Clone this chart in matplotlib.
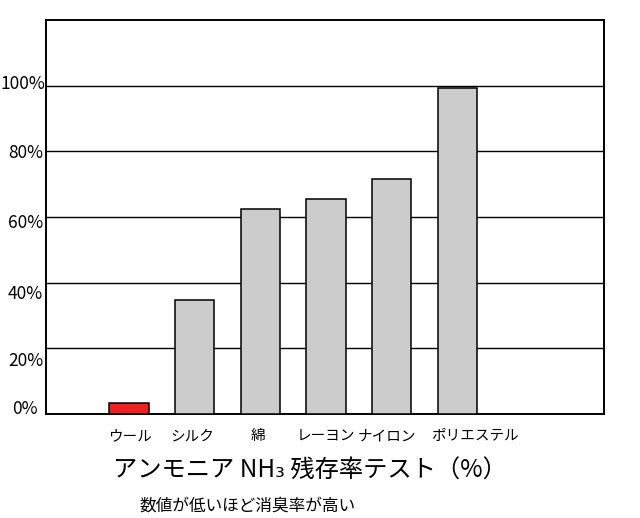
import matplotlib
matplotlib.use("Agg")
import matplotlib.pyplot as plt
import matplotlib.transforms as mtransforms

plt.rcParams['font.family'] = ['Noto Sans CJK JP', 'DejaVu Sans']

# data
fabrics = ['ウール', 'シルク', '綿', 'レーヨン', 'ナイロン', 'ポリエステル']
residual = [3.3, 34.8, 62.4, 65.5, 71.5, 99.4]
bar_colors = ['#ee2020', '#cccccc', '#cccccc', '#cccccc', '#cccccc', '#cccccc']
yticks = [0, 20, 40, 60, 80, 100]
ytick_labels = ['0%', '20%', '40%', '60%', '80%', '100%']
# small shifts of the labels seen in the original (px)
ylabel_shift = [(-6, 7), (0, -11), (0, -9), (0, -4), (0, 0), (2, 4)]
xlabel_shift = [1, -2.5, -2.5, 0, -4.5, 17.5]

fig = plt.figure(figsize=(6.4, 5.18), dpi=100)
ax = fig.add_axes([46 / 640, 1 - 414 / 518, 558 / 640, 394 / 518])

x = list(range(len(fabrics)))
ax.bar(x, residual, width=0.6, color=bar_colors, edgecolor='black',
       linewidth=1.1, zorder=3)

ax.set_xlim(-1.26, 7.23)
ax.set_ylim(0, 120)
for v in yticks[1:]:
    ax.axhline(v, color='black', linewidth=1.0, zorder=1)

ax.set_yticks(yticks)
ax.set_yticklabels(ytick_labels, fontsize=12.5)
ax.tick_params(axis='y', length=0, pad=2)
for lab, (dx, dy) in zip(ax.get_yticklabels(), ylabel_shift):
    lab.set_transform(lab.get_transform() +
                      mtransforms.ScaledTranslation(dx / 100, dy / 100, fig.dpi_scale_trans))

ax.set_xticks(x)
ax.set_xticklabels(fabrics, fontsize=10.5)
ax.tick_params(axis='x', length=0, pad=11)
for lab, dx in zip(ax.get_xticklabels(), xlabel_shift):
    lab.set_transform(lab.get_transform() +
                      mtransforms.ScaledTranslation(dx / 100, 0, fig.dpi_scale_trans))

for s in ax.spines.values():
    s.set_linewidth(1.4)
    s.set_color('black')

fig.text(310 / 640, 1 - 471 / 518, 'アンモニア NH₃ 残存率テスト（%）',
         ha='center', va='center', fontsize=17.5)
fig.text(248 / 640, 1 - 506 / 518, '数値が低いほど消臭率が高い',
         ha='center', va='center', fontsize=12)

fig.savefig('out.png', dpi=100)
